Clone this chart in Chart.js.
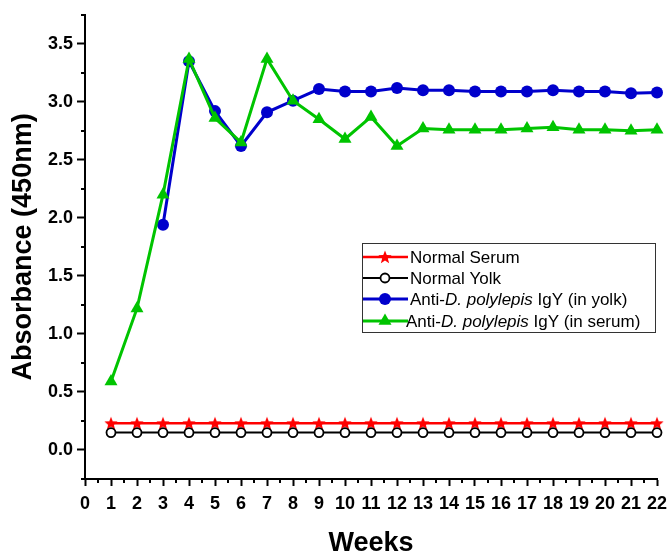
<!DOCTYPE html>
<html><head><meta charset="utf-8">
<script src="https://cdn.jsdelivr.net/npm/chart.js@4.4.1/dist/chart.umd.min.js"></script>
<style>html,body{margin:0;padding:0;background:#fff}#wrap{width:670px;height:553px;position:relative}</style>
</head><body><div id="wrap"><canvas id="c" width="670" height="553"></canvas></div>
<script>
// ---- data ----
const weeks = [1,2,3,4,5,6,7,8,9,10,11,12,13,14,15,16,17,18,19,20,21,22];
const normalSerum = [0.23,0.23,0.23,0.23,0.23,0.23,0.23,0.23,0.23,0.23,0.23,0.23,0.23,0.23,0.23,0.23,0.23,0.23,0.23,0.23,0.23,0.23];
const normalYolk  = [0.15,0.15,0.15,0.15,0.15,0.15,0.15,0.15,0.15,0.15,0.15,0.15,0.15,0.15,0.15,0.15,0.15,0.15,0.15,0.15,0.15,0.15];
const yolkIgY  = [null,null,1.94,3.35,2.92,2.62,2.91,3.01,3.11,3.09,3.09,3.12,3.10,3.10,3.09,3.09,3.09,3.10,3.09,3.09,3.075,3.08];
const serumIgY = [0.59,1.22,2.20,3.37,2.86,2.65,3.37,3.01,2.85,2.68,2.87,2.62,2.77,2.76,2.76,2.76,2.77,2.78,2.76,2.76,2.75,2.76];
const seriesNames = ['Normal Serum','Normal Yolk','Anti-D. polylepis IgY (in yolk)','Anti-D. polylepis IgY (in serum)'];
const xTitle = 'Weeks';
const yTitle = 'Absorbance (450nm)';

const RED='#ff0000', BLACK='#000000', BLUE='#0000cc', GREEN='#00c400';
const FONT='"Liberation Sans", Arial, sans-serif';

function makeStar(color, R, r){
  const s = Math.ceil(R*2)+2, c = document.createElement('canvas');
  c.width = s; c.height = s;
  const g = c.getContext('2d'); g.fillStyle = color; g.beginPath();
  for (let i=0;i<10;i++){
    const a = -Math.PI/2 + i*Math.PI/5, rad = (i%2)? r : R;
    const px = s/2 + rad*Math.cos(a), py = s/2 + 0.5 + rad*Math.sin(a);
    i? g.lineTo(px,py) : g.moveTo(px,py);
  }
  g.closePath(); g.fill(); return c;
}
const star = makeStar(RED, 7, 3);

function pts(arr){ return weeks.map((w,i)=>({x:w, y:arr[i]})); }

const datasets = [
  {label:seriesNames[0], order:3, data:pts(normalSerum), borderColor:RED, borderWidth:2.5, pointStyle:star, pointRadius:7, clip:false},
  {label:seriesNames[1], order:2, data:pts(normalYolk), borderColor:BLACK, borderWidth:2, pointStyle:'circle', pointRadius:4.5, pointBorderWidth:1.8, pointBorderColor:BLACK, pointBackgroundColor:'#ffffff', clip:false},
  {label:seriesNames[2], order:1, data:pts(yolkIgY), borderColor:BLUE, borderWidth:3, pointStyle:'circle', pointRadius:6, pointBorderWidth:0, pointBackgroundColor:BLUE, pointBorderColor:BLUE, clip:false, spanGaps:false},
  {label:seriesNames[3], order:0, data:pts(serumIgY), borderColor:GREEN, borderWidth:3, pointStyle:'triangle', pointRadius:7.5, pointBorderWidth:0, pointBackgroundColor:GREEN, pointBorderColor:GREEN, clip:false}
];

const isMult = (v, s) => Math.abs(v/s - Math.round(v/s)) < 1e-6;

const minorTicks = {
  id:'minorTicks',
  afterDraw(chart){
    const ctx = chart.ctx, xs = chart.scales.x, ys = chart.scales.y;
    ctx.save(); ctx.strokeStyle = '#000'; ctx.lineWidth = 2;
    xs.ticks.forEach(t=>{ if(!isMult(t.value,1)){ const px = Math.round(xs.getPixelForValue(t.value)); ctx.beginPath(); ctx.moveTo(px, ys.bottom); ctx.lineTo(px, ys.bottom+4); ctx.stroke(); }});
    ys.ticks.forEach(t=>{ if(!isMult(t.value,0.5)){ const py = Math.round(ys.getPixelForValue(t.value)); ctx.beginPath(); ctx.moveTo(xs.left-4, py); ctx.lineTo(xs.left, py); ctx.stroke(); }});
    ctx.restore();
  }
};

const customLegend = {
  id:'customLegend',
  afterDraw(chart){
    const ctx = chart.ctx;
    const bx = 362.5, by = 243.5, bw = 293, bh = 89;
    ctx.save();
    ctx.fillStyle = '#fff'; ctx.fillRect(bx, by, bw, bh);
    ctx.strokeStyle = '#333'; ctx.lineWidth = 1; ctx.strokeRect(bx, by, bw, bh);
    const rows = [257, 278, 299, 321];
    const textX = [410, 410, 410, 406];
    chart.data.datasets.forEach((ds, i)=>{
      const y = rows[i];
      ctx.strokeStyle = ds.borderColor; ctx.lineWidth = ds.borderWidth;
      ctx.beginPath(); ctx.moveTo(363, y); ctx.lineTo(408, y); ctx.stroke();
      ctx.fillStyle = ds.pointBackgroundColor || ds.borderColor;
      ctx.strokeStyle = ds.pointBorderColor || ds.borderColor;
      ctx.lineWidth = ds.pointBorderWidth || 0;
      Chart.helpers.drawPoint(ctx, {pointStyle: ds.pointStyle, radius: ds.pointRadius, rotation:0, borderWidth: ds.pointBorderWidth||0}, 385, y);
      ctx.fillStyle = '#000'; ctx.textBaseline = 'middle'; ctx.textAlign = 'left';
      const label = ds.label, m = label.match(/^(Anti-)(D\. polylepis)(.*)$/);
      let x = textX[i];
      if (m){
        const parts = [[m[1],'normal'],[m[2],'italic'],[m[3],'normal']];
        parts.forEach(([t, st])=>{ ctx.font = st + ' 17px ' + FONT; ctx.fillText(t, x, y+1); x += ctx.measureText(t).width; });
      } else { ctx.font = '17px ' + FONT; ctx.fillText(label, x, y+1); }
    });
    ctx.restore();
  }
};

new Chart(document.getElementById('c'), {
  type:'line',
  data:{datasets},
  options:{
    responsive:false, animation:false, devicePixelRatio:1, events:[],
    layout:{padding:{left:0, right:13, top:14, bottom:0}},
    plugins:{legend:{display:false}, tooltip:{enabled:false}},
    elements:{line:{tension:0}},
    scales:{
      x:{type:'linear', min:0, max:22,
        afterFit(s){ s.height = 74; s.paddingRight = 10; s.paddingLeft = 0; },
        border:{display:true, color:'#000', width:2},
        grid:{display:true, drawOnChartArea:false, drawTicks:true, tickLength:7, tickWidth:2,
          tickColor:(c)=> (c.tick && isMult(c.tick.value,1)) ? '#000' : 'rgba(0,0,0,0)'},
        ticks:{stepSize:0.5, autoSkip:false, maxRotation:0, minRotation:0, padding:7, color:'#000',
          font:{family:FONT, size:18, weight:'bold'},
          callback:(v)=> isMult(v,1) ? String(Math.round(v)) : ''},
        title:{display:true, text:xTitle, color:'#000', font:{family:FONT, size:27, weight:'bold', lineHeight:1}, padding:{top:0, bottom:-4}}
      },
      y:{type:'linear', min:-0.25, max:3.75,
        afterFit(s){ s.width = 85; },
        border:{display:true, color:'#000', width:2},
        grid:{display:true, drawOnChartArea:false, drawTicks:true, tickLength:8, tickWidth:2,
          tickColor:(c)=> (c.tick && isMult(c.tick.value,0.5)) ? '#000' : 'rgba(0,0,0,0)'},
        ticks:{stepSize:0.25, autoSkip:false, padding:4, color:'#000',
          font:{family:FONT, size:18, weight:'bold'},
          callback:(v)=> (isMult(v,0.5) && v > -0.01) ? v.toFixed(1) : ''},
        title:{display:true, text:yTitle, color:'#000', font:{family:FONT, size:27, weight:'bold', lineHeight:1}, padding:{top:10, bottom:0}}
      }
    }
  },
  plugins:[minorTicks, customLegend]
});
</script>
</body></html>
